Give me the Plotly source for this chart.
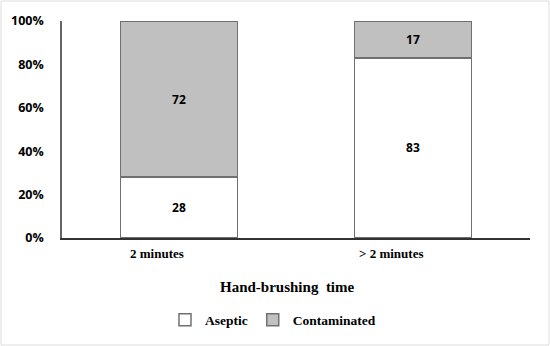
import plotly.graph_objects as go

categories = ["2 minutes", "> 2 minutes"]
aseptic = [28, 83]
contaminated = [72, 17]
y_ticks = [0, 20, 40, 60, 80, 100]
y_tick_labels = ["0%", "20%", "40%", "60%", "80%", "100%"]

W, H = 550, 346
ml, mr, mt, mb = 62, 20, 21, 108
pw, ph = W - ml - mr, H - mt - mb

fig = go.Figure()
fig.add_trace(go.Bar(
    x=categories, y=aseptic, name="Aseptic",
    marker=dict(color="white", line=dict(color="#707070", width=1.5)),
    text=[str(v) for v in aseptic], textposition="inside",
    insidetextanchor="middle", textangle=0,
    textfont=dict(family="Open Sans", size=12, color="black", weight="bold"),
    width=0.5,
))
fig.add_trace(go.Bar(
    x=categories, y=contaminated, name="Contaminated",
    marker=dict(color="#c0c0c0", line=dict(color="#707070", width=1.5)),
    text=[str(v) for v in contaminated], textposition="inside",
    insidetextanchor="middle", textangle=0,
    textfont=dict(family="Open Sans", size=12, color="black", weight="bold"),
    width=0.5,
))

for c in categories:
    fig.add_annotation(x=c, y=0, xref="x", yref="y", text="<b>%s</b>" % c,
                       showarrow=False, yanchor="top", yshift=-6, xshift=-22,
                       font=dict(family="Liberation Serif", size=13, color="black"))

fig.add_annotation(x=(287 - ml) / pw, y=-(287 - mt - ph) / ph, xref="paper", yref="paper",
                   text="<b>Hand-brushing&nbsp;&nbsp;time</b>", showarrow=False,
                   xanchor="center", yanchor="middle",
                   font=dict(family="Liberation Serif", size=15, color="black"))

# light border around the image
fig.add_shape(type="rect", xref="paper", yref="paper",
              x0=-(ml - 1) / pw, x1=1 + (mr - 1) / pw,
              y0=-(mb - 1) / ph, y1=1 + (mt - 1) / ph,
              line=dict(color="#dddddd", width=1))

fig.update_layout(
    barmode="stack",
    width=W, height=H,
    margin=dict(l=ml, r=mr, t=mt, b=mb, autoexpand=False),
    paper_bgcolor="white", plot_bgcolor="white",
    showlegend=True,
    legend=dict(orientation="h", x=(273 - ml) / pw, xanchor="center",
                y=-(320 - mt - ph) / ph, yanchor="middle",
                font=dict(family="Liberation Serif", size=13.5, color="black", weight="bold"),
                itemwidth=30, traceorder="normal", tracegroupgap=0),
    xaxis=dict(showticklabels=False, showline=True, linecolor="#333333", linewidth=2,
               ticks="", showgrid=False, range=[-0.5, 1.5], automargin=False),
    yaxis=dict(range=[0, 100], tickvals=y_ticks, ticktext=["<b>%s</b>" % t for t in y_tick_labels],
               showline=True, linecolor="#666666", linewidth=1.5, showgrid=False,
               ticks="", ticklabelstandoff=14, automargin=False,
               tickfont=dict(family="Open Sans", size=12.5, color="black")),
    bargap=0.5,
)

fig.write_html("out.html", config={"displayModeBar": False},
               post_script="document.body.style.margin='0';")
